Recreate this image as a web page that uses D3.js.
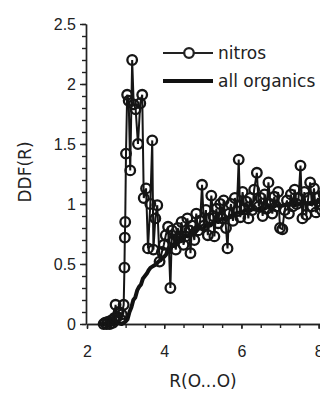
<!DOCTYPE html>
<html>
<head>
<meta charset="utf-8">
<script src="https://cdn.jsdelivr.net/npm/d3@7"></script>
<style>
  body { margin: 0; background: #fff; }
  svg { display: block; font-family: "DejaVu Sans", sans-serif; }
  .axis path, .axis line { stroke: #222; stroke-width: 1.4; }
  .axis text { fill: #222; font-size: 16px; }
</style>
</head>
<body>
<svg width="320" height="393"></svg>
<script>
var svg = d3.select('svg');

// nitros series (R, DDF)
var nitrosR = [2.43, 2.47, 2.51, 2.55, 2.59, 2.63, 2.67, 2.71, 2.74, 2.78, 2.82, 2.86, 2.90, 2.95,
  2.97, 2.98, 2.99, 3.01, 3.04, 3.08, 3.12, 3.17, 3.21, 3.26, 3.32, 3.38, 3.43, 3.47, 3.53, 3.58,
  3.64, 3.69, 3.72, 3.77, 3.82, 3.88, 3.94, 3.99, 4.04, 4.10, 4.16, 4.20, 4.25, 4.30, 4.35, 4.40,
  4.45, 4.50, 4.55, 4.60, 4.65, 4.68, 4.72, 4.78, 4.83, 4.88, 4.93, 4.98, 5.03, 5.08, 5.13, 5.18,
  5.22, 5.27, 5.30, 5.35, 5.40, 5.45, 5.50, 5.54, 5.60, 5.64, 5.68, 5.73, 5.78, 5.83, 5.88, 5.93,
  5.97, 6.03, 6.08, 6.13, 6.18, 6.23, 6.28, 6.33, 6.40, 6.45, 6.50, 6.55, 6.60, 6.65, 6.70, 6.75,
  6.80, 6.85, 6.90, 6.95, 7.00, 7.06, 7.12, 7.18, 7.23, 7.28, 7.33, 7.38, 7.43, 7.48, 7.53, 7.58,
  7.63, 7.68, 7.73, 7.78, 7.83, 7.88, 7.93, 7.98, 8.03, 8.08, 8.13, 8.20, 8.30];
var nitrosG = [0, 0.01, 0, 0.02, 0, 0.03, 0.01, 0.05, 0.16, 0.06, 0.10, 0.04, 0.08, 0.16,
  0.47, 0.72, 0.85, 1.42, 1.91, 1.86, 1.28, 2.20, 1.83, 1.79, 1.50, 1.84, 1.91, 1.05, 1.13, 0.63,
  1.00, 1.53, 0.62, 0.88, 0.99, 0.52, 0.60, 0.66, 0.74, 0.81, 0.30, 0.78, 0.70, 0.62, 0.80, 0.72,
  0.85, 0.66, 0.73, 0.88, 0.78, 0.59, 0.82, 0.70, 0.92, 0.78, 0.86, 1.16, 0.82, 0.95, 0.74, 0.88,
  1.07, 0.90, 0.73, 0.96, 0.84, 1.00, 0.88, 1.03, 0.80, 0.63, 0.92, 1.00, 0.86, 1.05, 0.94, 1.37,
  0.89, 1.10, 0.96, 1.02, 0.88, 1.05, 0.95, 1.12, 1.26, 0.98, 1.05, 0.90, 1.08, 0.96, 1.18, 1.00,
  0.92, 1.06, 0.98, 1.10, 0.80, 0.79, 0.95, 1.03, 0.92, 1.08, 0.98, 1.12, 1.00, 1.05, 1.32, 0.88,
  1.10, 0.91, 1.05, 1.18, 0.98, 1.13, 0.93, 1.05, 1.00, 0.95, 1.08, 1.00, 1.02];

// all organics series
var organicsR = [2.40, 2.50, 2.60, 2.70, 2.80, 2.90, 3.00, 3.05, 3.10, 3.15, 3.20, 3.25, 3.30, 3.35,
  3.40, 3.45, 3.50, 3.55, 3.60, 3.65, 3.70, 3.75, 3.80, 3.85, 3.90, 3.95, 4.00, 4.05, 4.10, 4.15,
  4.20, 4.25, 4.30, 4.35, 4.40, 4.45, 4.50, 4.60, 4.70, 4.80, 4.90, 5.00, 5.10, 5.20, 5.30, 5.40,
  5.50, 5.60, 5.70, 5.80, 5.90, 6.00, 6.10, 6.20, 6.30, 6.40, 6.50, 6.60, 6.70, 6.80, 6.90, 7.00,
  7.20, 7.40, 7.60, 7.80, 8.00, 8.20, 8.40];
var organicsG = [0, 0, 0, 0, 0.01, 0, 0.02, 0.04, 0.10, 0.14, 0.20, 0.22, 0.28, 0.31,
  0.33, 0.38, 0.40, 0.42, 0.45, 0.47, 0.48, 0.49, 0.50, 0.52, 0.53, 0.55, 0.56, 0.58, 0.62, 0.60,
  0.66, 0.65, 0.70, 0.68, 0.72, 0.70, 0.74, 0.73, 0.77, 0.76, 0.80, 0.79, 0.83, 0.82, 0.86, 0.85,
  0.88, 0.87, 0.90, 0.91, 0.93, 0.92, 0.95, 0.94, 0.96, 0.95, 0.97, 0.96, 0.98, 0.97, 0.99, 0.98,
  1.00, 0.99, 1.01, 1.00, 1.02, 1.01, 1.02];

var xTicks = [2, 4, 6, 8];
var yTicks = [0, 0.5, 1, 1.5, 2, 2.5];
var legendNames = ['nitros', 'all organics'];

var x = d3.scaleLinear().domain([2, 8.1]).range([87, 322.5]);
var y = d3.scaleLinear().domain([0, 2.5]).range([324, 24]);

var nitros = nitrosR.map((r, i) => ({r: r, g: nitrosG[i]}));
var organics = organicsR.map((r, i) => ({r: r, g: organicsG[i]}));

var line = d3.line().x(d => x(d.r)).y(d => y(d.g));

// axes: minor ticks first, then labelled major ticks
svg.append('g')
  .attr('class', 'axis')
  .attr('transform', 'translate(86,0)')
  .call(d3.axisLeft(y).tickValues(d3.range(0, 2.51, 0.1)).tickSize(4).tickFormat('').tickSizeOuter(0));
svg.append('g')
  .attr('class', 'axis')
  .attr('transform', 'translate(86,0)')
  .call(d3.axisLeft(y).tickValues(yTicks).tickSize(6).tickPadding(4).tickSizeOuter(0)
    .tickFormat(d => String(d)));

svg.append('g')
  .attr('class', 'axis')
  .attr('transform', 'translate(0,324)')
  .call(d3.axisBottom(x).tickValues(d3.range(2, 8.1, 0.5)).tickSize(4).tickFormat('').tickSizeOuter(0));
svg.append('g')
  .attr('class', 'axis')
  .attr('transform', 'translate(0,324)')
  .call(d3.axisBottom(x).tickValues(xTicks).tickSize(5).tickPadding(17).tickSizeOuter(0)
    .tickFormat(d3.format('d')));

// series
svg.append('path')
  .datum(organics)
  .attr('d', line)
  .attr('fill', 'none')
  .attr('stroke', '#111')
  .attr('stroke-width', 4)
  .attr('stroke-linejoin', 'round');

svg.append('path')
  .datum(nitros)
  .attr('d', line)
  .attr('fill', 'none')
  .attr('stroke', '#151515')
  .attr('stroke-width', 2);

svg.append('g')
  .selectAll('circle')
  .data(nitros)
  .join('circle')
    .attr('cx', d => x(d.r))
    .attr('cy', d => y(d.g))
    .attr('r', 4.8)
    .attr('fill', 'none')
    .attr('stroke', '#151515')
    .attr('stroke-width', 2.3);

// axis titles
svg.append('text')
  .attr('transform', 'translate(31,172)rotate(-90)')
  .attr('text-anchor', 'middle')
  .attr('font-size', 17)
  .attr('fill', '#222')
  .text('DDF(R)');
svg.append('text')
  .attr('x', 203)
  .attr('y', 387)
  .attr('text-anchor', 'middle')
  .attr('font-size', 17)
  .attr('fill', '#222')
  .text('R(O...O)');

// legend
var legend = svg.append('g');
legend.append('line')
  .attr('x1', 163).attr('x2', 213).attr('y1', 53).attr('y2', 53)
  .attr('stroke', '#222').attr('stroke-width', 2);
legend.append('circle')
  .attr('cx', 189).attr('cy', 53).attr('r', 4.8)
  .attr('fill', '#fff').attr('stroke', '#222').attr('stroke-width', 2.3);
legend.append('line')
  .attr('x1', 163).attr('x2', 213).attr('y1', 81).attr('y2', 81)
  .attr('stroke', '#111').attr('stroke-width', 4);
legend.selectAll('text')
  .data(legendNames)
  .join('text')
    .attr('x', 218)
    .attr('y', (d, i) => 59 + i * 28)
    .attr('font-size', 17)
    .attr('fill', '#222')
    .text(d => d);
</script>
</body>
</html>
